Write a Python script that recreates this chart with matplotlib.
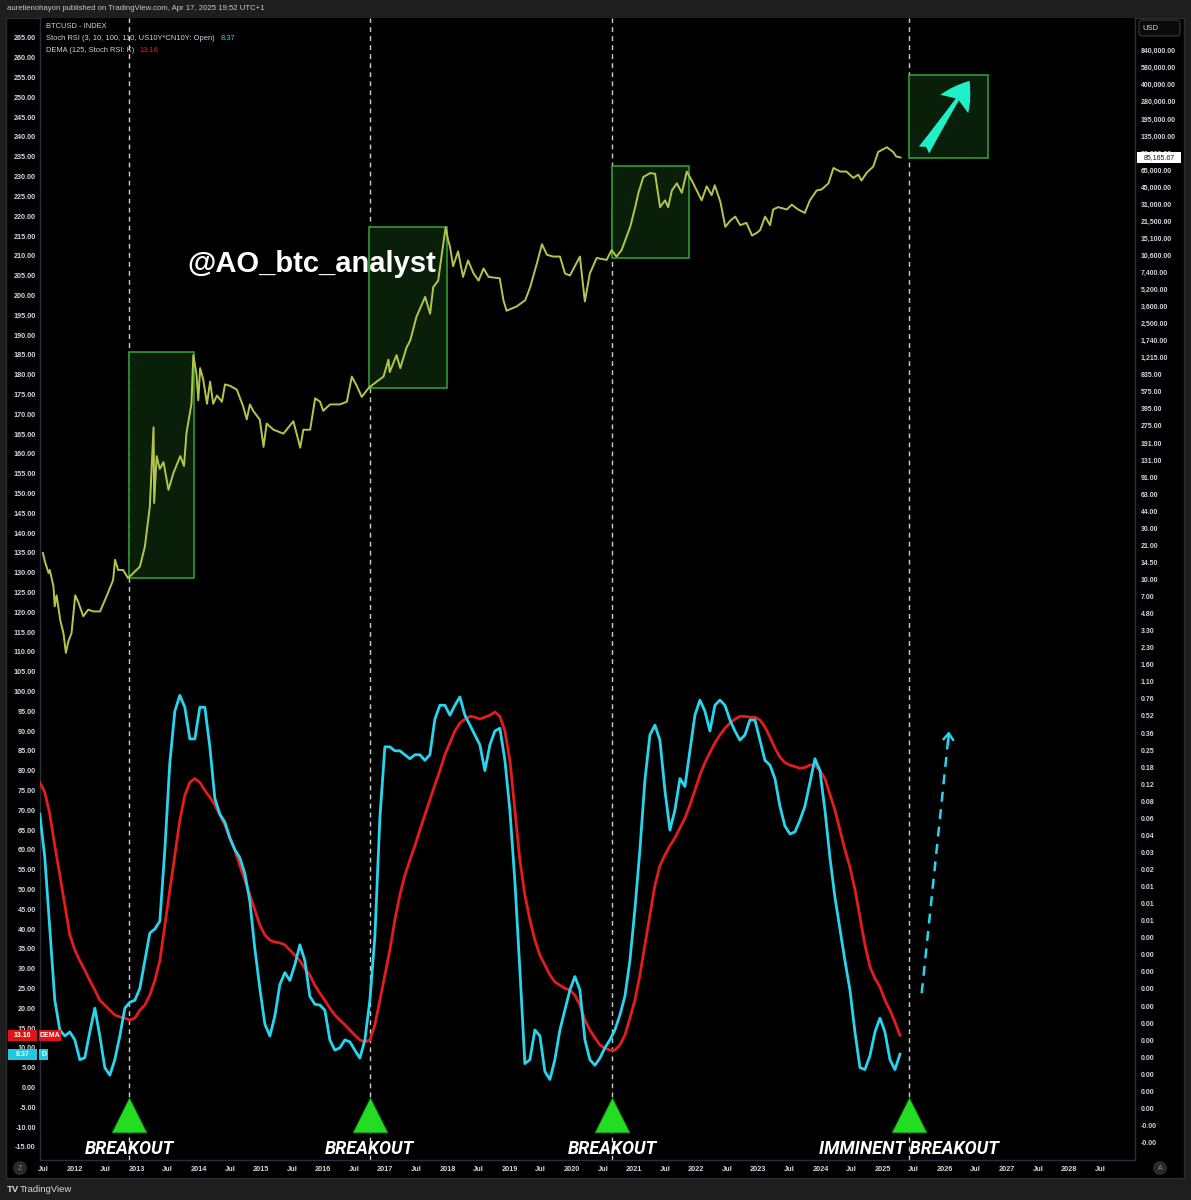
import numpy as np
import matplotlib
matplotlib.use("Agg")
import matplotlib.pyplot as plt
import matplotlib.transforms as mtransforms
from matplotlib.patches import Rectangle, FancyBboxPatch, Ellipse
from matplotlib.ticker import FixedLocator, NullLocator
from matplotlib.text import Annotation

# ---------------- data ----------------
# BTC price (decimal year, USD)
price_t = [2011.49, 2011.52, 2011.58, 2011.60, 2011.66, 2011.68, 2011.71, 2011.77, 2011.82, 2011.86,
           2011.90, 2011.95, 2012.01, 2012.06, 2012.14, 2012.22, 2012.30, 2012.41, 2012.52, 2012.62,
           2012.65, 2012.70, 2012.78, 2012.86, 2013.05, 2013.13, 2013.21, 2013.27, 2013.28, 2013.32,
           2013.37, 2013.43, 2013.51, 2013.59, 2013.70, 2013.76, 2013.80, 2013.88, 2013.91, 2013.96,
           2013.99, 2014.02, 2014.07, 2014.13, 2014.18, 2014.23, 2014.29, 2014.37, 2014.42, 2014.50,
           2014.61, 2014.71, 2014.77, 2014.82, 2014.88, 2014.98, 2015.04, 2015.09, 2015.20, 2015.36,
           2015.52, 2015.63, 2015.68, 2015.79, 2015.87, 2015.95, 2016.00, 2016.11, 2016.27, 2016.38,
           2016.46, 2016.54, 2016.62, 2016.73, 2016.86, 2016.97, 2017.05, 2017.07, 2017.18, 2017.24,
           2017.34, 2017.40, 2017.50, 2017.64, 2017.72, 2017.77, 2017.85, 2017.91, 2017.97, 2018.01,
           2018.04, 2018.09, 2018.17, 2018.25, 2018.33, 2018.42, 2018.50, 2018.58, 2018.66, 2018.84,
           2018.90, 2018.95, 2019.11, 2019.25, 2019.33, 2019.44, 2019.52, 2019.60, 2019.70, 2019.81,
           2019.89, 2019.97, 2020.13, 2020.21, 2020.29, 2020.40, 2020.56, 2020.64, 2020.72, 2020.80,
           2020.94, 2021.02, 2021.07, 2021.15, 2021.26, 2021.34, 2021.42, 2021.50, 2021.55, 2021.61,
           2021.69, 2021.77, 2021.85, 2021.93, 2022.01, 2022.09, 2022.17, 2022.25, 2022.30, 2022.39,
           2022.47, 2022.55, 2022.63, 2022.71, 2022.81, 2022.90, 2022.98, 2023.03, 2023.11, 2023.19,
           2023.24, 2023.32, 2023.46, 2023.54, 2023.64, 2023.75, 2023.83, 2023.94, 2024.02, 2024.13,
           2024.21, 2024.32, 2024.42, 2024.53, 2024.61, 2024.66, 2024.75, 2024.85, 2024.93, 2025.07,
           2025.17, 2025.22, 2025.29]
price_v = [17.8, 15, 11.6, 12.4, 8.7, 5.7, 7.2, 4.2, 3.2, 2.1,
           2.7, 3.2, 7.2, 6.2, 4.6, 5.3, 5.1, 5.1, 7.2, 10,
           15.4, 12.4, 12.4, 10.4, 13.3, 20.4, 48, 263, 52, 142,
           108, 125, 69, 99, 142, 115, 233, 436, 1234, 830,
           470, 935, 730, 436, 700, 436, 520, 455, 660, 640,
           590, 415, 312, 430, 370, 310, 173, 285, 250, 230,
           300, 170, 250, 250, 490, 455, 375, 430, 430, 455,
           780, 640, 505, 610, 700, 780, 1120, 860, 1234, 935,
           1450, 1690, 2800, 4300, 3000, 5300, 6100, 10900, 19100, 14500,
           12600, 8300, 11400, 6600, 9400, 7100, 6100, 7900, 6600, 6400,
           4000, 3200, 3500, 4000, 5300, 8900, 13300, 10600, 10200, 10200,
           7100, 6800, 10200, 3900, 7100, 9900, 9500, 11700, 10200, 11700,
           19300, 29400, 39600, 56000, 61000, 60000, 29400, 34000, 29400, 42000,
           49000, 40000, 63000, 52000, 42000, 34000, 46000, 38000, 47000, 33000,
           19300, 22000, 24000, 20000, 21000, 16000, 17000, 18000, 24000, 20000,
           28000, 29400, 28000, 31000, 28000, 26000, 34000, 42000, 43000, 49000,
           68000, 63000, 63000, 55000, 59000, 52000, 62000, 70000, 96000, 106000,
           96000, 87000, 85165.67]

# Stoch RSI K and its DEMA, evenly spaced between these dates
osc_start, osc_end = 2011.44, 2025.28
stoch_k = [69, 58, 40, 22, 14.5, 13, 14, 12, 7, 7.5, 14, 20, 13, 5, 3.1, 7, 13, 20, 21.5, 22,
           25, 32, 39, 40, 42, 60, 82, 95, 99, 96, 88, 88, 96, 96, 86, 73, 69, 67, 63, 60,
           58, 54, 47, 35, 25, 16, 13, 18, 26, 29, 27, 31, 36, 32, 23, 21, 20.8, 19.5, 12, 9.4,
           10, 12, 11.5, 9.4, 7.4, 12, 22, 38, 68, 86, 86, 85, 85, 84, 83, 84, 84, 82.6, 84, 93,
           96.5, 96.5, 94, 96.5, 98.6, 94, 91.5, 89, 86.5, 80, 86.5, 90, 90.7, 82.6, 70, 52, 29.6, 6, 7, 14.5,
           13, 4, 2, 7, 14.5, 19.5, 24.6, 28, 24.6, 12, 7, 5.6, 7.4, 10, 12, 14.5, 18.3, 23, 32, 45,
           60, 77.6, 89, 91.5, 87.7, 75, 65, 70, 78, 76, 85, 94, 97.8, 95, 90, 96.5, 97.8, 96.5, 92.8, 90,
           87.7, 89, 92.8, 92.8, 87.7, 82.6, 81.4, 78, 71, 66, 64, 64.5, 67.5, 71, 77, 83, 80, 70, 58, 48,
           40, 32, 24.6, 14, 5, 4.5, 8, 14, 17.5, 14, 7, 4.5, 8.37]
dema = [77, 74.5, 69, 61, 53.6, 46, 38.5, 34.7, 32, 29.6, 27, 24.6, 22, 20.8, 19.5, 18.3, 17.8, 17.5, 17, 17.5,
        19.5, 20.8, 23.3, 27, 32, 41, 49.8, 58.7, 67.5, 73.8, 77, 78, 77, 75, 73.3, 71.3, 68.8, 66.3, 63, 60,
        56, 52.4, 48.6, 44.8, 41, 38.5, 37.2, 36.7, 36.5, 36, 34.7, 33.4, 32, 30, 28.4, 25.8, 23.8, 22, 20, 18.3,
        17, 15.8, 14.5, 13.2, 12, 11.5, 12, 15.8, 22, 28.4, 34.7, 42.3, 48.6, 53.6, 57.4, 61, 65, 68.8, 72.6, 76.4,
        80, 84, 87, 90, 92, 93, 93.7, 93.5, 93, 93.5, 94, 94.8, 93.7, 90, 82.6, 70, 57.4, 48.6, 42.3, 37.2,
        33.4, 30.9, 28.4, 26.6, 25.8, 25, 24.6, 23.3, 20.8, 17, 14.5, 12.5, 10.7, 9.9, 9.4, 9.4, 10.7, 13.2, 17.5, 22,
        28.4, 36, 43.5, 51, 56, 58.7, 61, 63, 65.5, 68, 71.3, 75, 78.9, 82, 84.6, 87, 89, 90.7, 92, 93,
        93.7, 93.7, 93.5, 93.5, 92.8, 91, 88.5, 85.7, 83.4, 82, 81.4, 81, 80.6, 80.8, 81.4, 81.4, 80, 78, 74, 70,
        65, 60, 55.6, 50, 43, 36, 30.5, 27.5, 25.4, 22, 19.5, 16.5, 13.16]

last_price = 85165.67
last_k = 8.37
last_dema = 13.16

left_ticks = list(range(-15, 270, 5))
right_tick_labels = ["840,000.00", "580,000.00", "400,000.00", "280,000.00", "195,000.00", "135,000.00",
                     "93,000.00", "65,000.00", "45,000.00", "31,000.00", "21,500.00", "15,100.00",
                     "10,600.00", "7,400.00", "5,200.00", "3,600.00", "2,500.00", "1,740.00", "1,215.00",
                     "835.00", "575.00", "395.00", "275.00", "191.00", "131.00", "91.00", "63.00", "44.00",
                     "30.00", "21.00", "14.50", "10.00", "7.00", "4.80", "3.30", "2.30", "1.60", "1.10",
                     "0.76", "0.52", "0.36", "0.25", "0.18", "0.12", "0.08", "0.06", "0.04", "0.03", "0.02",
                     "0.01", "0.01", "0.01"] + ["0.00"] * 11 + ["-0.00", "-0.00"]
years = list(range(2012, 2029))

breakouts = [2012.88, 2016.75, 2020.65, 2025.43]
breakout_text = ["BREAKOUT", "BREAKOUT", "BREAKOUT", "IMMINENT BREAKOUT"]
# (start, end, low price, high price)
boxes = [(2012.875, 2013.92, 10.4, 1320), (2016.74, 2017.99, 611, 19200),
         (2020.65, 2021.89, 9890, 71000), (2025.43, 2026.70, 84300, 498700)]

# ---------------- style / layout ----------------
W, H, DPI = 1191, 1200, 100
BG = "#1e1e1e"
CYAN = "#27d6ee"
RED = "#e51c1c"
TXT = "#d1d4dc"
GRID = "#2a2e39"

def fx(px):
    return px / W

def fy(py):
    return 1 - py / H

fig = plt.figure(figsize=(W / DPI, H / DPI), dpi=DPI, facecolor=BG)
fig.patches.append(Rectangle((fx(6), fy(1178)), fx(1184) - fx(6), fy(18) - fy(1178),
                             transform=fig.transFigure, facecolor="black",
                             edgecolor="#2c2c2c", lw=1, zorder=-5))

ax = fig.add_axes([fx(40), fy(1160), fx(1135) - fx(40), fy(18) - fy(1160)])
ax.set_facecolor("black")
ax.set_xlim(2011.443, 2029.062)
ax.set_ylim(-18.33, 270.05)
ax.spines["top"].set_visible(False)
for s in ["left", "right", "bottom"]:
    ax.spines[s].set_color(GRID)
    ax.spines[s].set_linewidth(1)

ax.yaxis.set_major_locator(FixedLocator(left_ticks))
ax.set_yticklabels([f"{v:.2f}" for v in left_ticks])
ax.tick_params(axis="y", length=0, pad=3, labelsize=5.2, labelcolor=TXT)

xt = [2011.5]
xl = ["Jul"]
for y in years:
    xt += [y, y + 0.5]
    xl += [str(y), "Jul"]
ax.xaxis.set_major_locator(FixedLocator(xt))
ax.set_xticklabels(xl)
ax.tick_params(axis="x", length=0, pad=4, labelsize=5.3, labelcolor=TXT)
for lab in ax.get_xticklabels() + ax.get_yticklabels():
    lab.set_fontfamily("Liberation Sans")
    lab.set_fontweight("bold")

# price axis (log)
ax2 = ax.twinx()
ax2.set_yscale("log")
ax2.set_ylim(4.024e-5, 1.690e6)
for s in ["top", "left", "right", "bottom"]:
    ax2.spines[s].set_visible(False)
rt_pos = [10 ** (np.log10(840000) - i * 0.1587) for i in range(len(right_tick_labels))]
ax2.yaxis.set_major_locator(FixedLocator(rt_pos))
ax2.yaxis.set_minor_locator(NullLocator())
ax2.set_yticklabels(right_tick_labels)
ax2.tick_params(axis="y", length=0, pad=4, labelsize=5.0, labelcolor=TXT)
for lab in ax2.get_yticklabels():
    lab.set_fontfamily("Liberation Sans")
    lab.set_fontweight("bold")

# breakout boxes
for (t0, t1, p0, p1) in boxes:
    ax2.add_patch(Rectangle((t0, p0), t1 - t0, p1 - p0, facecolor="#0a1f0a",
                            edgecolor="#36a636", lw=1.1, zorder=2))

# price
ax2.plot(price_t, price_v, color="#c4c24c", lw=1.4, zorder=3)
ax2.plot(price_t, price_v, color="#8fcf4a", lw=0.5, zorder=3, alpha=0.8)

# breakout vertical dashed lines
for t in breakouts:
    ax.axvline(t, color="#cfcfcf", lw=1.0, ls=(0, (3.5, 3)), zorder=1)

# oscillator
ax.plot(np.linspace(osc_start, osc_end, len(dema)), dema, color=RED, lw=2.0, zorder=4)
ax.plot(np.linspace(osc_start, osc_end, len(stoch_k)), stoch_k, color=CYAN, lw=2.0, zorder=5)

# triangles + labels
ax.scatter(breakouts, [-7.0] * len(breakouts), marker="^", s=620, color="#22dd22",
           edgecolor="#119911", lw=0.6, zorder=6)
for t, txt in zip(breakouts, breakout_text):
    ax.text(t, -15.6, txt, ha="center", va="center", color="white", fontsize=13,
            fontweight="bold", fontstyle="italic", family="Roboto", zorder=7)

# dashed projection arrow
ax.plot([2025.63, 2026.06], [23.8, 88.5], color=CYAN, lw=1.8, ls=(0, (4, 3)), zorder=5)
ax.annotate("", xy=(2026.07, 90.6), xytext=(2026.05, 86.0),
            arrowprops=dict(arrowstyle="->,head_length=0.45,head_width=0.35",
                            color=CYAN, lw=1.8), zorder=5)

# big arrow in the last box
ax2.annotate("", xy=(2026.40, 440000), xytext=(2025.667, 100000),
             arrowprops=dict(arrowstyle="fancy,head_length=2.0,head_width=2.4,tail_width=0.9",
                             fc="#20f0c8", ec="none", mutation_scale=10, shrinkA=0, shrinkB=0),
             zorder=6)

# watermark
fig.text(fx(187), fy(264), "@AO_btc_analyst", color="white", fontsize=21, fontweight="bold",
         family="Liberation Sans", va="center", ha="left")

# header / legend
fig.text(fx(7), fy(9), "aurelienohayon published on TradingView.com, Apr 17, 2025 19:52 UTC+1",
         color="#c8c8c8", fontsize=5.6, va="center", family="Liberation Sans")
fig.text(fx(46), fy(27), "BTCUSD - INDEX", color=TXT, fontsize=5.4, va="center", family="Liberation Sans")
t1 = fig.text(fx(46), fy(38.5), "Stoch RSI (3, 10, 100, 110, US10Y*CN10Y: Open)", color=TXT,
              fontsize=5.4, va="center", family="Liberation Sans")
t2 = fig.text(fx(46), fy(50.5), "DEMA (125, Stoch RSI: K)", color=TXT, fontsize=5.4, va="center",
              family="Liberation Sans")
a1 = Annotation(f"{last_k:.2f}", xy=(1, 0.5), xycoords=t1, xytext=(4, 0), textcoords="offset points",
                va="center", color=CYAN, fontsize=5.4, family="Liberation Sans")
a2 = Annotation(f"{last_dema:.2f}", xy=(1, 0.5), xycoords=t2, xytext=(4, 0), textcoords="offset points",
                va="center", color=RED, fontsize=5.4, family="Liberation Sans")
fig.add_artist(a1)
fig.add_artist(a2)

# axis value tags (left)
bl = mtransforms.blended_transform_factory(fig.transFigure, ax.transData)
tag_h = 11 / 3.96  # tag height in oscillator units (11 px)
for (x0, x1, v, txt, col) in [(8, 37, last_dema, f"{last_dema:.2f}", "#e01515"),
                              (39, 61, last_dema, "DEMA", "#e01515"),
                              (8, 37, last_k, f"{last_k:.2f}", "#1fc8e0"),
                              (39, 48, last_k, "D", "#1fc8e0")]:
    fig.patches.append(Rectangle((fx(x0), v - tag_h / 2), fx(x1) - fx(x0), tag_h, transform=bl,
                                 facecolor=col, edgecolor="none", zorder=3))
    fig.text(fx((x0 + x1) / 2), v, txt, transform=bl, ha="center", va="center", color="white",
             fontsize=5.0, fontweight="bold", family="Liberation Sans", zorder=4)

# last price tag (right)
br = mtransforms.blended_transform_factory(fig.transFigure, ax2.transData)
lp_lo, lp_hi = last_price / 10 ** (5.5 / 107.5), last_price * 10 ** (5.5 / 107.5)
fig.patches.append(Rectangle((fx(1137), lp_lo), fx(1181) - fx(1137), lp_hi - lp_lo, transform=br,
                             facecolor="white", edgecolor="none", zorder=3))
fig.text(fx(1159), last_price, f"{last_price:,.2f}", transform=br, ha="center", va="center",
         color="#131722", fontsize=5.0, family="Liberation Sans", zorder=4)

# USD box
fig.patches.append(FancyBboxPatch((fx(1139), fy(36)), fx(1180) - fx(1139), fy(20) - fy(36),
                                  boxstyle="round,pad=0,rounding_size=0.003",
                                  transform=fig.transFigure, facecolor="#0a0a0a",
                                  edgecolor="#3a3a3a", lw=0.8, zorder=3))
fig.text(fx(1150), fy(28), "USD", ha="center", va="center", color=TXT, fontsize=5.5,
         family="Liberation Sans", zorder=4)

# small round icons in the time-axis strip
for (cx, letter) in [(20, "Z"), (1160, "A")]:
    fig.patches.append(Ellipse((fx(cx), fy(1168)), 14 / W, 14 / H, transform=fig.transFigure,
                               facecolor="#2a2a2a", edgecolor="none", zorder=3))
    fig.text(fx(cx), fy(1168), letter, ha="center", va="center", color="#8a8a8a", fontsize=5,
             family="Liberation Sans", zorder=4)

# footer
fig.text(fx(7), fy(1189), "TV", color="#d8d8d8", fontsize=6.8, fontweight="bold", va="center",
         family="Liberation Sans")
fig.text(fx(19.5), fy(1189), "TradingView", color="#d8d8d8", fontsize=6.8, va="center",
         family="Liberation Sans")

fig.savefig("out.png", dpi=DPI, facecolor=BG)
